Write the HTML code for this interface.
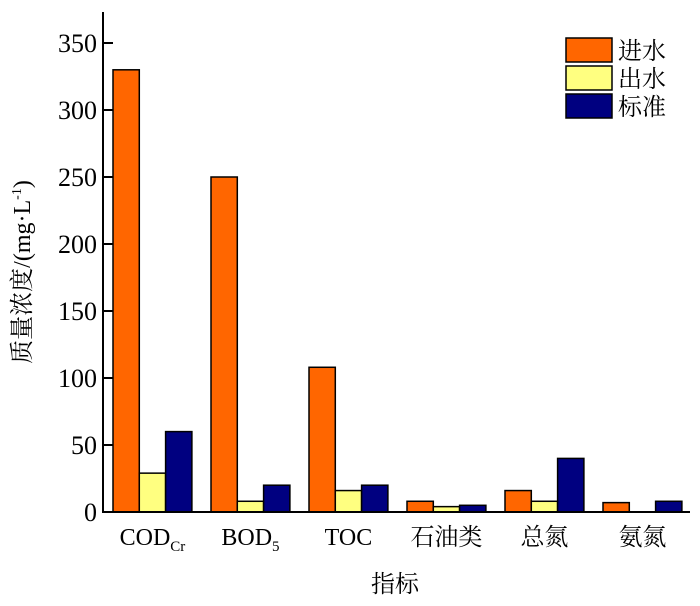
<!DOCTYPE html>
<html><head><meta charset="utf-8"><style>
body{margin:0;background:#fff}
svg text{font-family:"Liberation Serif","Noto Serif CJK SC",serif;fill:#000}
</style></head><body>
<svg id="c" width="700" height="601"></svg>
<script>
const categories=["COD","BOD","TOC","石油类","总氮","氨氮"];
const inflow=[330,250,108,8,16,7];
const outflow=[29,8,16,4,8,0];
const standard=[60,20,20,5,40,8];
const yTicks=[0,50,100,150,200,250,300,350];
const seriesNames=["进水","出水","标准"];
const colors=["#ff6600","#ffff80","#000080"];
const svg=document.getElementById('c');
const NS="http://www.w3.org/2000/svg";
const x0=103,yBase=512,pxPer=469/350,groupW=98,bw=26.3,firstBar=113;
function y(v){return yBase-v*pxPer;}
function gx(i){return firstBar+i*groupW;}
function mk(t,a,txt){const e=document.createElementNS(NS,t);for(const k in a)e.setAttribute(k,a[k]);if(txt!==undefined)e.textContent=txt;svg.appendChild(e);return e;}
const series=[inflow,outflow,standard];
series.forEach((s,si)=>s.forEach((v,i)=>{
 if(v<=0)return;
 const r=mk('rect',{x:gx(i)+si*bw,y:y(v),width:bw,height:yBase-y(v),fill:colors[si],stroke:'#000','stroke-width':1.5});
 
 
}));
let ax=mk('line',{x1:x0,y1:12,x2:x0,y2:yBase+1,stroke:'#000','stroke-width':2});


let bx=mk('line',{x1:x0,y1:yBase,x2:690,y2:yBase,stroke:'#000','stroke-width':2});


yTicks.forEach(t=>{
 mk('line',{x1:x0,y1:y(t),x2:x0+10,y2:y(t),stroke:'#000','stroke-width':2});
 const l=mk('text',{x:x0-6,y:y(t)+9,'text-anchor':'end','font-size':26},t);
 
 
});
categories.forEach((c,i)=>{
 const cx=gx(i)+1.5*bw;
 const t=mk('text',{x:cx,y:545,'text-anchor':'middle','font-size':24});
 
 
 if(c==="COD"){t.innerHTML='COD<tspan font-size="15" dy="6">Cr</tspan>';}
 else if(c==="BOD"){t.innerHTML='BOD<tspan font-size="15" dy="6">5</tspan>';}
 else t.textContent=c;
});
const xt=mk('text',{x:395,y:592,'text-anchor':'middle','font-size':24},'指标');


const yt=mk('text',{transform:'translate(30,272) rotate(-90)','text-anchor':'middle','font-size':24});
yt.innerHTML='质量浓度/(mg·L<tspan font-size="14" dy="-9">-1</tspan><tspan dy="9">)</tspan>';


seriesNames.forEach((n,i)=>{
 const ly=38+i*28;
 const r=mk('rect',{x:566,y:ly,width:46,height:24,fill:colors[i],stroke:'#000','stroke-width':1.5});
 
 
 const t=mk('text',{x:618,y:ly+21,'font-size':24},n);
 
 
});
</script>
</body></html>
